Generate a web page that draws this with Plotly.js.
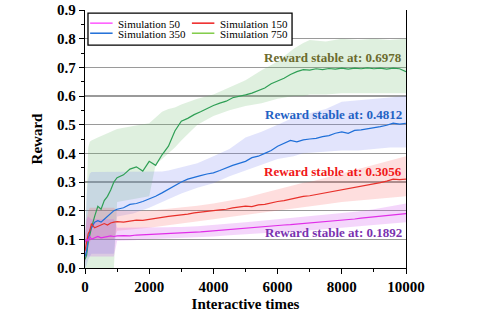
<!DOCTYPE html>
<html>
<head>
<meta charset="utf-8">
<script src="https://cdn.plot.ly/plotly-3.0.1.min.js"></script>
<style>
  html, body { margin: 0; padding: 0; background: #fff; }
  #chart { width: 492px; height: 327px; }
</style>
</head>
<body>
<div id="chart"></div>
<script>
// interactive times (x) for the mean curves
const steps = [0, 50, 100, 150, 200, 300, 400, 500, 600, 700, 800, 900, 1000,
  1200, 1400, 1600, 1800, 2000, 2200, 2400, 2600, 2800, 3000, 3200, 3400, 3600, 3800,
  4000, 4200, 4400, 4600, 4800, 5000, 5200, 5400, 5600, 5800, 6000, 6200, 6400, 6600,
  6800, 7000, 7200, 7400, 7600, 7800, 8000, 8200, 8400, 8600, 8800, 9000, 9200, 9400,
  9600, 9800, 10000];

const sim50 = [0.09, 0.1, 0.095, 0.11, 0.1, 0.105, 0.11, 0.105, 0.108, 0.11, 0.112, 0.11, 0.112,
  0.113, 0.112, 0.115, 0.116, 0.118, 0.117, 0.12, 0.121, 0.12, 0.122, 0.123, 0.125, 0.126, 0.128,
  0.13, 0.131, 0.134, 0.136, 0.138, 0.14, 0.141, 0.143, 0.145, 0.146, 0.148, 0.15, 0.151, 0.153,
  0.155, 0.156, 0.157, 0.16, 0.162, 0.164, 0.166, 0.168, 0.171, 0.174, 0.176, 0.178, 0.18, 0.183,
  0.186, 0.188, 0.19];

const sim150 = [0.06, 0.09, 0.12, 0.13, 0.155, 0.14, 0.145, 0.15, 0.155, 0.15, 0.157, 0.16, 0.162,
  0.16, 0.163, 0.167, 0.166, 0.17, 0.173, 0.176, 0.18, 0.183, 0.185, 0.188, 0.192, 0.194, 0.196,
  0.2, 0.203, 0.205, 0.21, 0.213, 0.216, 0.214, 0.22, 0.222, 0.228, 0.232, 0.235, 0.24, 0.245,
  0.25, 0.252, 0.256, 0.26, 0.265, 0.27, 0.272, 0.278, 0.282, 0.285, 0.29, 0.293, 0.298, 0.303,
  0.31, 0.308, 0.31];

const sim350 = [0.04, 0.06, 0.1, 0.13, 0.14, 0.16, 0.165, 0.16, 0.17, 0.18, 0.19, 0.2, 0.205,
  0.21, 0.222, 0.225, 0.232, 0.24, 0.25, 0.262, 0.275, 0.29, 0.3, 0.31, 0.315, 0.322, 0.328,
  0.332, 0.34, 0.35, 0.358, 0.365, 0.372, 0.385, 0.39, 0.4, 0.41, 0.425, 0.436, 0.445, 0.44,
  0.447, 0.45, 0.452, 0.458, 0.462, 0.47, 0.475, 0.47, 0.48, 0.482, 0.485, 0.49, 0.493, 0.498,
  0.505, 0.502, 0.505];

const sim750 = [0.03, 0.045, 0.09, 0.12, 0.14, 0.18, 0.215, 0.205, 0.235, 0.25, 0.272, 0.3, 0.315,
  0.325, 0.345, 0.353, 0.338, 0.372, 0.358, 0.395, 0.425, 0.478, 0.512, 0.522, 0.535, 0.545, 0.556,
  0.567, 0.575, 0.582, 0.594, 0.598, 0.604, 0.61, 0.62, 0.628, 0.643, 0.652, 0.662, 0.675, 0.685,
  0.692, 0.69, 0.695, 0.692, 0.696, 0.694, 0.697, 0.694, 0.697, 0.695, 0.698, 0.695, 0.697, 0.694,
  0.697, 0.695, 0.685];

// x for the shaded spread bands
const bandX = [0, 50, 100, 150, 200, 400, 600, 800, 900, 1000, 1500, 2000, 2200, 2400, 2600, 2800,
  3000, 3500, 4000, 4500, 5000, 5500, 6000, 6500, 6800, 7000, 7500, 8000, 8500, 9000, 9500, 10000];

const hi50 = [0.12, 0.17, 0.18, 0.175, 0.17, 0.17, 0.17, 0.17, 0.17, 0.14, 0.14, 0.14, 0.141, 0.142, 0.142, 0.143,
  0.143, 0.146, 0.15, 0.155, 0.16, 0.165, 0.17, 0.175, 0.178, 0.18, 0.185, 0.19, 0.197, 0.205, 0.215, 0.225];
const lo50 = [0.02, 0.04, 0.04, 0.04, 0.04, 0.04, 0.04, 0.04, 0.04, 0.095, 0.097, 0.1, 0.101, 0.102, 0.103, 0.104,
  0.105, 0.108, 0.11, 0.114, 0.118, 0.121, 0.125, 0.128, 0.129, 0.13, 0.135, 0.14, 0.145, 0.15, 0.155, 0.16];

const hi150 = [0.1, 0.17, 0.2, 0.21, 0.21, 0.21, 0.21, 0.21, 0.21, 0.2, 0.198, 0.2, 0.202, 0.204, 0.206, 0.208,
  0.21, 0.217, 0.225, 0.235, 0.245, 0.26, 0.275, 0.29, 0.297, 0.3, 0.315, 0.33, 0.345, 0.36, 0.375, 0.39];
const lo150 = [0.02, 0.04, 0.08, 0.09, 0.1, 0.1, 0.1, 0.1, 0.1, 0.13, 0.135, 0.14, 0.143, 0.146, 0.15, 0.152,
  0.155, 0.162, 0.17, 0.178, 0.185, 0.192, 0.2, 0.207, 0.212, 0.215, 0.222, 0.23, 0.235, 0.24, 0.245, 0.25];

const hi350 = [0.08, 0.25, 0.31, 0.33, 0.335, 0.335, 0.335, 0.335, 0.335, 0.335, 0.335, 0.335, 0.335, 0.337, 0.34, 0.345,
  0.35, 0.365, 0.39, 0.415, 0.455, 0.475, 0.5, 0.525, 0.535, 0.54, 0.555, 0.58, 0.585, 0.59, 0.595, 0.6];
const lo350 = [0, 0.01, 0.03, 0.04, 0.05, 0.05, 0.05, 0.05, 0.05, 0.18, 0.19, 0.21, 0.22, 0.23, 0.24, 0.25,
  0.26, 0.28, 0.296, 0.32, 0.34, 0.36, 0.38, 0.39, 0.4, 0.4, 0.405, 0.41, 0.41, 0.415, 0.42, 0.42];

const hi750 = [0.08, 0.3, 0.42, 0.44, 0.445, 0.455, 0.465, 0.475, 0.48, 0.485, 0.495, 0.505, 0.525, 0.545, 0.555, 0.56,
  0.57, 0.59, 0.605, 0.63, 0.655, 0.69, 0.72, 0.765, 0.785, 0.795, 0.79, 0.8, 0.795, 0.8, 0.795, 0.8];
const lo750 = [0, 0, 0, 0, 0, 0, 0, 0, 0, 0.23, 0.24, 0.25, 0.36, 0.38, 0.4, 0.42,
  0.445, 0.5, 0.53, 0.55, 0.565, 0.575, 0.59, 0.6, 0.6, 0.605, 0.605, 0.61, 0.61, 0.61, 0.61, 0.61];

const names = ['Simulation 50', 'Simulation 150', 'Simulation 350', 'Simulation 750'];
const stable = ['0.1892', '0.3056', '0.4812', '0.6978'];

const serif = '"Liberation Serif", serif';
const lineColors = ['#e02ee8', '#e8302a', '#1f6fd8', '#2f9f55'];
const legendColors = ['#ff55ff', '#ee2020', '#1f6fd8', '#80cc48'];
const fillColors = ['rgba(205,70,235,0.22)', 'rgba(250,90,90,0.2)', 'rgba(110,120,240,0.2)', 'rgba(110,185,110,0.22)'];
const noteColors = ['#7a32b0', '#f01818', '#1f62c4', '#6b6b2e'];

const means = [sim50, sim150, sim350, sim750];
const his = [hi50, hi150, hi350, hi750];
const los = [lo50, lo150, lo350, lo750];

const traces = [];
// bands first, widest (750) at the back
for (let i = 3; i >= 0; i--) {
  traces.push({
    x: bandX.concat(bandX.slice().reverse()),
    y: his[i].concat(los[i].slice().reverse()),
    type: 'scatter', mode: 'lines', fill: 'toself',
    fillcolor: fillColors[i], line: {width: 0},
    hoverinfo: 'skip', showlegend: false
  });
}
for (let i = 3; i >= 0; i--) {
  traces.push({
    x: steps, y: means[i], name: names[i],
    type: 'scatter', mode: 'lines',
    line: {color: lineColors[i], width: 1.2},
    showlegend: false
  });
}

// hand-made legend box (the native one has too tall rows)
const shapes = [{
  type: 'rect', xref: 'paper', yref: 'paper',
  x0: 0.0093, x1: 0.645, y0: 0.864, y1: 0.988,
  line: {color: '#000', width: 1.3}, fillcolor: '#fff', layer: 'above'
}];
const legendPos = [[0.016, 0.949], [0.333, 0.949], [0.016, 0.910], [0.333, 0.910]];
const annotations = [];
legendPos.forEach((p, i) => {
  shapes.push({
    type: 'line', xref: 'paper', yref: 'paper',
    x0: p[0], x1: p[0] + 0.07, y0: p[1], y1: p[1],
    line: {color: legendColors[i], width: 1.5}, layer: 'above'
  });
  annotations.push({
    xref: 'paper', yref: 'paper', x: p[0] + 0.083, y: p[1],
    xanchor: 'left', yanchor: 'middle', showarrow: false,
    height: 9, borderpad: 0, valign: 'middle',
    text: names[i], font: {family: serif, size: 11, color: '#000'}
  });
});

// "Reward stable at" notes, right aligned near the end of each curve
const noteY = [0.123, 0.336, 0.534, 0.735];
stable.forEach((s, i) => {
  annotations.push({
    xref: 'x', yref: 'y', x: 9940, y: noteY[i],
    xanchor: 'right', yanchor: 'middle', showarrow: false,
    text: 'Reward stable at: ' + s,
    font: {family: serif, size: 13, color: noteColors[i], weight: 'bold'}
  });
});

const tickFont = {family: serif, size: 15, color: '#000', weight: 'bold'};

const layout = {
  width: 492, height: 327,
  margin: {l: 85, r: 86, t: 10, b: 59},
  paper_bgcolor: '#fff', plot_bgcolor: '#fff',
  showlegend: false,
  font: {family: serif},
  xaxis: {
    range: [0, 10000], dtick: 2000, tick0: 0, tickformat: 'd',
    showgrid: false, zeroline: false,
    showline: true, linecolor: '#000', linewidth: 1.2,
    ticks: 'outside', ticklen: 5, tickcolor: '#000', tickwidth: 1,
    minor: {dtick: 1000, ticks: 'outside', ticklen: 3, tickcolor: '#000', showgrid: false},
    tickfont: tickFont,
    title: {text: 'Interactive times', font: {family: serif, size: 15, color: '#000', weight: 'bold'}, standoff: 4}
  },
  yaxis: {
    range: [0, 0.9], dtick: 0.1, tick0: 0, tickformat: '.1f',
    showgrid: true, gridcolor: '#9a9a9a', gridwidth: 1.2, zeroline: false,
    showline: true, linecolor: '#000', linewidth: 1.2, mirror: true,
    ticks: 'outside', ticklen: 5, tickcolor: '#000', tickwidth: 1,
    minor: {dtick: 0.05, ticks: 'outside', ticklen: 3, tickcolor: '#000', showgrid: false},
    tickfont: tickFont,
    title: {text: 'Reward', font: {family: serif, size: 15, color: '#000', weight: 'bold'}, standoff: 10}
  },
  shapes: shapes,
  annotations: annotations
};

Plotly.newPlot('chart', traces, layout, {displayModeBar: false, staticPlot: true});
</script>
</body>
</html>
